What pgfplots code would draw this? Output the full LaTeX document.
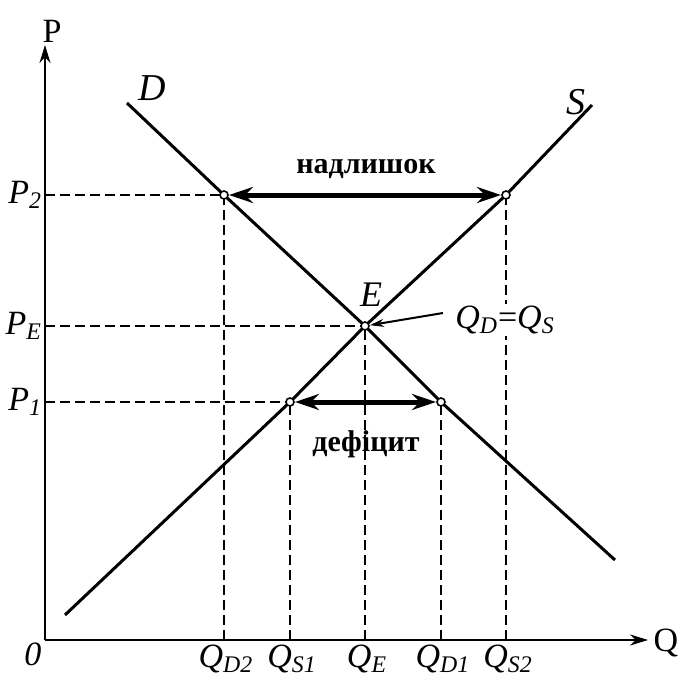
\documentclass[border=0pt]{standalone}
\usepackage{fontspec}
\setmainfont{Liberation Serif}
\usepackage{pgfplots}
\pgfplotsset{compat=1.18}
\usetikzlibrary{arrows.meta}
\begin{document}
\fontsize{16}{19}\selectfont
\begin{tikzpicture}
\begin{axis}[
  x=0.5pt, y=0.5pt, anchor=origin, at={(0,0)},
  xmin=0, xmax=603, ymin=0, ymax=595,
  axis lines=left,
  axis line style={line width=1.1pt, -{Stealth[length=9pt,width=5.5pt]}},
  xtick={179,245,320,396,461},
  xticklabels={\textit{Q}\textsubscript{\textit{D2}},\textit{Q}\textsubscript{\textit{S1}},\textit{Q}\textsubscript{\textit{E}},\textit{Q}\textsubscript{\textit{D1}},\textit{Q}\textsubscript{\textit{S2}}},
  ytick={238,314,445},
  yticklabels={\textit{P}\textsubscript{\textit{1}},\textit{P}\textsubscript{\textit{E}},\textit{P}\textsubscript{\textit{2}}},
  major tick length=0pt,
  tick label style={font=\fontsize{17}{19}\selectfont},
  xticklabel style={yshift=3pt, xshift=1pt},
  yticklabel style={xshift=4pt},
  clip=false,
]
% supply and demand
\addplot[line width=1.5pt] coordinates {(82,537) (179,445) (320,314) (396,238) (570,80)};
\addplot[line width=1.5pt] coordinates {(20,25) (245,238) (320,314) (461,445) (547,535)};
% dashed guides
\addplot[line width=1pt, dash pattern=on 5pt off 2.5pt] coordinates {(0,445) (179,445)};
\addplot[line width=1pt, dash pattern=on 5pt off 2.5pt] coordinates {(0,314) (320,314)};
\addplot[line width=1pt, dash pattern=on 5pt off 2.5pt] coordinates {(0,238) (245,238)};
\addplot[line width=1pt, dash pattern=on 5pt off 2.5pt] coordinates {(179,0) (179,445)};
\addplot[line width=1pt, dash pattern=on 5pt off 2.5pt] coordinates {(245,0) (245,238)};
\addplot[line width=1pt, dash pattern=on 5pt off 2.5pt] coordinates {(320,0) (320,314)};
\addplot[line width=1pt, dash pattern=on 5pt off 2.5pt] coordinates {(396,0) (396,238)};
\addplot[line width=1pt, dash pattern=on 5pt off 2.5pt] coordinates {(461,0) (461,445)};
% surplus and shortage arrows
\addplot[line width=2.5pt, {Stealth[length=12pt,width=8pt]}-{Stealth[length=12pt,width=8pt]}, shorten <=2.5pt, shorten >=2.5pt] coordinates {(179,445) (461,445)};
\addplot[line width=2.5pt, {Stealth[length=12pt,width=8pt]}-{Stealth[length=12pt,width=8pt]}, shorten <=2.5pt, shorten >=2.5pt] coordinates {(245,238) (396,238)};
% pointer to E
\addplot[line width=1pt, -{Stealth[length=7pt,width=4pt]}, shorten >=2.5pt] coordinates {(398,327) (320,314)};
% points
\addplot[only marks, mark=*, mark size=2pt, mark options={fill=white, draw=black, line width=0.8pt}] coordinates {(179,445) (461,445) (320,314) (245,238) (396,238)};
% labels
\node[font=\fontsize{17}{19}\selectfont] at (axis cs:7,609) {P};
\node[font=\fontsize{17}{19}\selectfont] at (axis cs:621,-3) {Q};
\node[font=\fontsize{17}{19}\selectfont\itshape] at (axis cs:-12,-14) {0};
\node[font=\fontsize{19}{21}\selectfont\itshape] at (axis cs:107,552) {D};
\node[font=\fontsize{19}{21}\selectfont\itshape] at (axis cs:531,538) {S};
\node[font=\fontsize{18}{20}\selectfont\itshape] at (axis cs:326,345) {E};
\node[fill=white, inner sep=1pt, font=\fontsize{17}{19}\selectfont] at (axis cs:460,320) {\textit{Q}\textsubscript{\textit{D}}=\textit{Q}\textsubscript{\textit{S}}};
\node[font=\fontsize{15}{18}\selectfont\bfseries] at (axis cs:321,471) {надлишок};
\node[font=\fontsize{15}{18}\selectfont\bfseries] at (axis cs:321,196) {дефіцит};
\end{axis}
\pgfresetboundingbox
\path (-22.5pt,-21pt) rectangle (317.5pt,320pt);
\end{tikzpicture}
\end{document}
